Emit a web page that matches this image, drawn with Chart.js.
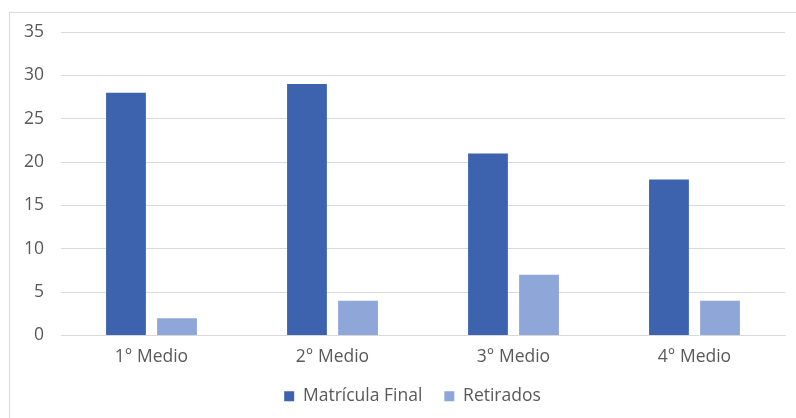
<!DOCTYPE html>
<html>
<head>
<meta charset="utf-8">
<script src="https://cdn.jsdelivr.net/npm/chart.js@4"></script>
<style>
  html, body { margin: 0; padding: 0; background: #fff; }
  #wrap { position: relative; width: 796px; height: 418px; overflow: hidden; }
  #frame { position: absolute; left: 9px; top: 12px; width: 820px; height: 440px; border: 1px solid #d9d9d9; }
  canvas { position: absolute; left: 0; top: 0; }
</style>
</head>
<body>
<div id="wrap">
  <div id="frame"></div>
  <canvas id="chart" width="796" height="418"></canvas>
</div>
<script>
// Data
const categories = ['1° Medio', '2° Medio', '3° Medio', '4° Medio'];
const matriculaFinal = [28, 29, 21, 18];
const retirados = [2, 4, 7, 4];
const yTicks = { min: 0, max: 35, step: 5 };

const textColor = '#595959';
const fontFamily = '"Open Sans", Lato, sans-serif';
const fontSize = 17.5;

// the legend in the reference sits a bit right of centre
const legendShift = {
    id: 'legendShift',
    afterLayout(chart) {
        if (chart.legend) chart.legend.left += 40;
    }
};

new Chart(document.getElementById('chart'), {
    type: 'bar',
    data: {
        labels: categories,
        datasets: [
            {
                label: 'Matrícula Final',
                data: matriculaFinal,
                backgroundColor: '#3d62ae',
                categoryPercentage: 0.564,
                barPercentage: 0.78
            },
            {
                label: 'Retirados',
                data: retirados,
                backgroundColor: '#8fa6d8',
                categoryPercentage: 0.564,
                barPercentage: 0.78
            }
        ]
    },
    options: {
        responsive: false,
        animation: false,
        layout: {
            padding: { top: 32, right: 11, left: 0, bottom: 3 }
        },
        plugins: {
            legend: {
                position: 'bottom',
                labels: {
                    boxWidth: 10,
                    boxHeight: 10,
                    padding: 22,
                    color: textColor,
                    font: { family: fontFamily, size: fontSize }
                }
            },
            tooltip: { enabled: false }
        },
        scales: {
            x: {
                grid: { display: false, drawTicks: false },
                border: { color: '#d9d9d9', width: 1 },
                ticks: {
                    color: textColor,
                    padding: 11,
                    font: { family: fontFamily, size: fontSize }
                },
                afterFit(scale) { scale.height = 30; }
            },
            y: {
                min: yTicks.min,
                max: yTicks.max,
                ticks: {
                    stepSize: yTicks.step,
                    color: textColor,
                    padding: 17,
                    font: { family: fontFamily, size: fontSize }
                },
                grid: { color: '#d9d9d9', drawTicks: false },
                border: { display: false },
                afterFit(scale) { scale.width = 61; }
            }
        }
    },
    plugins: [legendShift]
});
</script>
</body>
</html>
